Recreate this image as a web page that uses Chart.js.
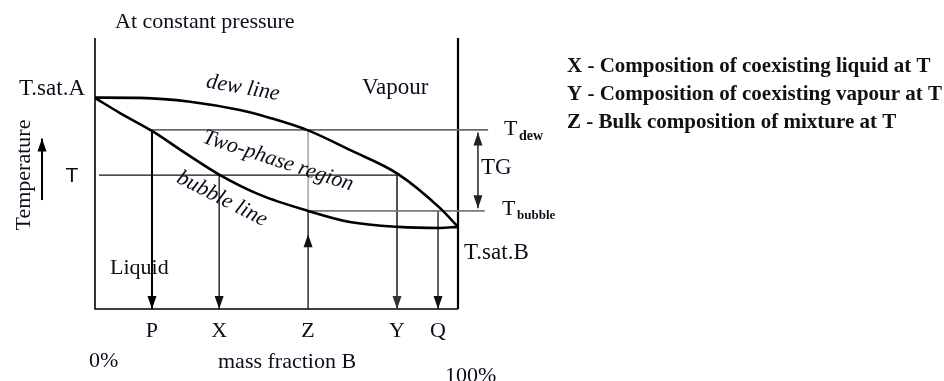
<!DOCTYPE html>
<html>
<head>
<meta charset="utf-8">
<script src="https://cdn.jsdelivr.net/npm/chart.js@4.4.1/dist/chart.umd.min.js"></script>
<style>
  html, body { margin: 0; padding: 0; background: #fff; }
  canvas { display: block; }
</style>
</head>
<body>
<canvas id="fase" width="944" height="381"></canvas>
<script>
// mass fraction of B (%) and temperature (arbitrary units, 0 = bottom of the box)
const dewX = [0, 12.4, 26.2, 39.9, 48.2, 58.7, 70.2, 83.5, 95.0, 100];
const dewT = [78.0, 77.9, 76.5, 73.4, 70.5, 65.9, 58.7, 49.8, 37.3, 30.3];
const bubbleX = [0, 6.9, 15.7, 24.8, 34.2, 45.5, 58.7, 70.2, 83.5, 95.0, 100];
const bubbleT = [77.9, 72.3, 65.7, 57.6, 49.6, 42.1, 36.2, 32.1, 30.3, 29.9, 30.3];

// temperature levels
const tDew = 66.1;
const tMix = 49.4;
const tBubble = 36.2;

// compositions read on the axis
const compLabels = ['P', 'X', 'Z', 'Y', 'Q'];
const compValues = [15.7, 34.2, 58.7, 83.2, 94.5];

const legendLines = [
    'X - Composition of coexisting liquid at T',
    'Y - Composition of coexisting vapour at T',
    'Z - Bulk composition of mixture at T'
];

const SERIF = '"Liberation Serif", "DejaVu Serif", serif';

function pts(xs, ys) {
    return xs.map((x, i) => ({ x: x, y: ys[i] }));
}

function seg(x1, y1, x2, y2, color, width, arrow) {
    return {
        data: [{ x: x1, y: y1 }, { x: x2, y: y2 }],
        borderColor: color,
        borderWidth: width,
        showLine: true,
        pointRadius: 0,
        clip: false,
        arrow: arrow
    };
}

const datasets = [
    {
        data: pts(dewX, dewT),
        borderColor: '#000',
        borderWidth: 2.6,
        showLine: true,
        pointRadius: 0,
        cubicInterpolationMode: 'monotone'
    },
    {
        data: pts(bubbleX, bubbleT),
        borderColor: '#000',
        borderWidth: 2.6,
        showLine: true,
        pointRadius: 0,
        cubicInterpolationMode: 'monotone'
    },
    // horizontal levels
    seg(compValues[0], tDew, 108.3, tDew, '#6a6a6a', 1.6),
    seg(1.1, tMix, compValues[3], tMix, '#111', 1.2),
    seg(compValues[2], tBubble, 107.4, tBubble, '#7a7a7a', 1.6),
    // drop lines to the axis
    seg(compValues[0], tDew, compValues[0], 0, '#000', 2, { end: true }),
    seg(compValues[1], tMix, compValues[1], 0, '#111', 1.3, { end: true }),
    seg(compValues[2], 0, compValues[2], tBubble, '#111', 1.3, { midUp: 27.6 }),
    seg(compValues[2], tBubble, compValues[2], tDew, '#888', 1.2),
    seg(compValues[3], tMix, compValues[3], 0, '#333', 1.7, { end: true }),
    seg(compValues[4], tBubble, compValues[4], 0, '#111', 1.3, { end: true }),
    // temperature glide
    seg(105.5, tBubble + 1, 105.5, tDew - 1, '#222', 1.5, { start: true, end: true }),
    // temperature axis arrow
    seg(-14.6, 40.2, -14.6, 62.9, '#000', 2, { end: true })
];

function arrowHead(ctx, x, y, dx, dy, color) {
    const len = 13, half = 4.5;
    const n = Math.hypot(dx, dy);
    const ux = dx / n, uy = dy / n;
    ctx.save();
    ctx.fillStyle = color;
    ctx.beginPath();
    ctx.moveTo(x, y);
    ctx.lineTo(x - ux * len - uy * half, y - uy * len + ux * half);
    ctx.lineTo(x - ux * len + uy * half, y - uy * len - ux * half);
    ctx.closePath();
    ctx.fill();
    ctx.restore();
}

const extras = {
    id: 'extras',
    beforeDatasetsDraw(chart) {
        const { ctx, chartArea: a } = chart;
        ctx.save();
        ctx.strokeStyle = '#000';
        ctx.lineWidth = 1.6;
        ctx.beginPath();
        ctx.moveTo(a.left, a.top);
        ctx.lineTo(a.left, a.bottom);
        ctx.lineTo(a.right, a.bottom);
        ctx.stroke();
        ctx.lineWidth = 2.2;
        ctx.beginPath();
        ctx.moveTo(a.right, a.top);
        ctx.lineTo(a.right, a.bottom);
        ctx.stroke();
        ctx.restore();
    },
    afterDatasetsDraw(chart) {
        const { ctx } = chart;
        const xs = chart.scales.x, ys = chart.scales.y;
        chart.data.datasets.forEach(ds => {
            if (!ds.arrow) return;
            const p0 = ds.data[0], p1 = ds.data[1];
            const x0 = xs.getPixelForValue(p0.x), y0 = ys.getPixelForValue(p0.y);
            const x1 = xs.getPixelForValue(p1.x), y1 = ys.getPixelForValue(p1.y);
            if (ds.arrow.end) arrowHead(ctx, x1, y1, x1 - x0, y1 - y0, ds.borderColor);
            if (ds.arrow.start) arrowHead(ctx, x0, y0, x0 - x1, y0 - y1, ds.borderColor);
            if (ds.arrow.midUp !== undefined) {
                arrowHead(ctx, x0, ys.getPixelForValue(ds.arrow.midUp), 0, -1, ds.borderColor);
            }
        });
    },
    afterDraw(chart) {
        const { ctx } = chart;
        const xs = chart.scales.x, ys = chart.scales.y;
        const ink = '#0d0d1a';

        function text(str, x, y, font, opts) {
            opts = opts || {};
            ctx.save();
            ctx.font = font;
            ctx.fillStyle = opts.color || ink;
            ctx.textAlign = opts.align || 'left';
            ctx.textBaseline = 'middle';
            ctx.translate(x, y);
            if (opts.rot) ctx.rotate(opts.rot * Math.PI / 180);
            ctx.fillText(str, 0, 0);
            ctx.restore();
        }

        const f = '22px ' + SERIF;
        text('At constant pressure', 115, 22, f);
        text('T.sat.A', 19, 89, '23px ' + SERIF);
        text('Vapour', 362, 88, '23px ' + SERIF);
        text('Liquid', 110, 268, f);
        text('T.sat.B', 464, 253, '23px ' + SERIF);
        text('dew line', 243, 88, 'italic 22px ' + SERIF, { align: 'center', rot: 10 });
        text('Two-phase region', 278, 161, 'italic 22px ' + SERIF, { align: 'center', rot: 18 });
        text('bubble line', 222, 199, 'italic 22px ' + SERIF, { align: 'center', rot: 27 });
        text('Temperature', 24, 175, f, { align: 'center', rot: -90 });
        text('T', 72, 176, '21px "Liberation Sans", Arial, sans-serif', { align: 'center' });

        compLabels.forEach((lab, i) => {
            text(lab, xs.getPixelForValue(compValues[i]), 331, f, { align: 'center' });
        });
        text('0%', 89, 361, f);
        text('mass fraction B', 218, 362, f);
        text('100%', 445, 376, f);

        text('T', 504, ys.getPixelForValue(tDew) - 1, '22px ' + SERIF);
        text('dew', 519, ys.getPixelForValue(tDew) + 7, 'bold 14px ' + SERIF);
        text('TG', 481, 168, '23px ' + SERIF);
        text('T', 502, ys.getPixelForValue(tBubble) - 2, '22px ' + SERIF);
        text('bubble', 517, ys.getPixelForValue(tBubble) + 5, 'bold 13px ' + SERIF);

        legendLines.forEach((line, i) => {
            text(line, 567, 67 + i * 28, 'bold 21px ' + SERIF, { color: '#111' });
        });
    }
};

new Chart(document.getElementById('fase').getContext('2d'), {
    type: 'scatter',
    data: { datasets: datasets },
    options: {
        responsive: false,
        animation: false,
        layout: { padding: { left: 95, right: 486, top: 38, bottom: 72 } },
        scales: {
            x: { type: 'linear', min: 0, max: 100, display: false },
            y: { type: 'linear', min: 0, max: 100, display: false }
        },
        plugins: { legend: { display: false }, tooltip: { enabled: false } }
    },
    plugins: [extras]
});
</script>
</body>
</html>
